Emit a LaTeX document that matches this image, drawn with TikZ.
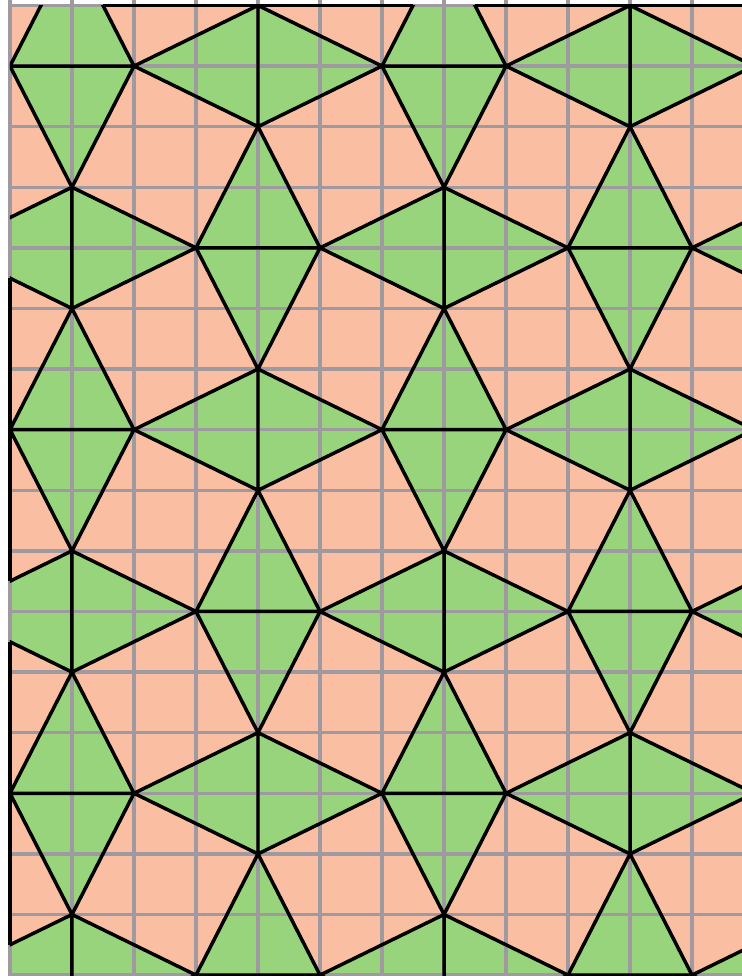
\documentclass[tikz,border=0pt]{standalone}
\usepackage{xcolor}
\usetikzlibrary{calc}

\definecolor{tileSalmon}{RGB}{250,190,162}
\definecolor{tileGreen}{RGB}{152,212,124}
\definecolor{gridGray}{RGB}{158,154,160}

\begin{document}
\begin{tikzpicture}[x=1cm, y=-0.9774cm,
    greentile/.style={fill=tileGreen},
    tileedge/.style={black, line width=1.6pt, line join=round},
    gridline/.style={gridGray, line width=1.6pt}]
    \useasboundingbox (-0.161,-0.09) rectangle (11.806,16.015);
    \fill[white] (-0.161,-0.09) rectangle (11.806,16.015);

    % background and green rhombi
    \begin{scope}
        \clip (0,0) rectangle (11.806,16.015);
        \fill[tileSalmon] (0,0) rectangle (11.806,16.015);
        \foreach \i in {-6,0,6,12} \foreach \j in {-6,0,6,12,18} {
            \begin{scope}[shift={(\i,\j)}]
                \fill[greentile] (0,1) -- (1,-1) -- (2,1) -- (1,3) -- cycle;
                \fill[greentile] (3,4) -- (4,2) -- (5,4) -- (4,6) -- cycle;
                \fill[greentile] (2,1) -- (4,0) -- (6,1) -- (4,2) -- cycle;
                \fill[greentile] (-1,4) -- (1,3) -- (3,4) -- (1,5) -- cycle;
            \end{scope}
        }
    \end{scope}

    % grid
    \begin{scope}
        \clip (-0.03,-0.09) rectangle (11.806,16.015);
        \foreach \x in {0,...,11}
            \draw[gridline] (\x,-0.09) -- (\x,16.1);
        \foreach \y in {0,...,16}
            \draw[gridline] (0,\y) -- (11.9,\y);
    \end{scope}

    % black edges
    \begin{scope}
        \clip (0,0) rectangle (11.806,16.015);
        \foreach \i in {-6,0,6,12} \foreach \j in {-6,0,6,12,18} {
            \begin{scope}[shift={(\i,\j)}]
                \draw[tileedge] (0,1) -- (1,-1) -- (2,1) -- (1,3) -- cycle (0,1) -- (2,1);
                \draw[tileedge] (3,4) -- (4,2) -- (5,4) -- (4,6) -- cycle (3,4) -- (5,4);
                \draw[tileedge] (2,1) -- (4,0) -- (6,1) -- (4,2) -- cycle (4,0) -- (4,2);
                \draw[tileedge] (-1,4) -- (1,3) -- (3,4) -- (1,5) -- cycle (1,3) -- (1,5);
            \end{scope}
        }
    \end{scope}

    % border where the squares are cut
    \draw[tileedge] (0,4.5) -- (0,9.5) (0,10.5) -- (0,15.5);
    \draw[tileedge] (1.5,0) -- (6.5,0) (7.5,0) -- (11.806,0);
\end{tikzpicture}
\end{document}
